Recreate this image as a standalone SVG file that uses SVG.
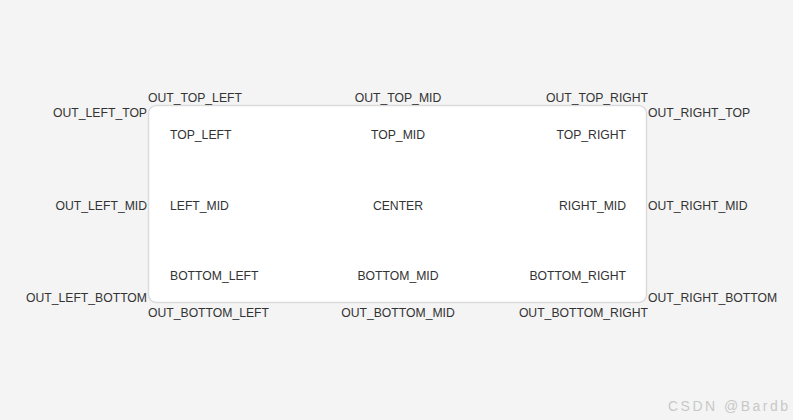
<svg xmlns="http://www.w3.org/2000/svg" width="793" height="420" viewBox="0 0 793 420">
<style>
text{font-family:"Liberation Sans",Arial,sans-serif;font-size:12.2px;fill:#333}
.s{text-anchor:start}.m{text-anchor:middle}.e{text-anchor:end}
.wm{font-size:14px;fill:#c8c8c8}
</style>
<rect x="0" y="0" width="793" height="420" fill="#f4f4f4"/>
<g id="panel">
<rect x="148.5" y="105.5" width="498" height="197" rx="8" ry="8" fill="#ffffff" stroke="#dcdcdc" stroke-width="1.5"/>
</g>
<g id="connectors"></g>
<g id="inner">
<text id="TOP_LEFT" class="s" x="170" y="139">TOP_LEFT</text>
<text id="TOP_MID" class="m" x="398" y="139">TOP_MID</text>
<text id="TOP_RIGHT" class="e" x="626" y="139">TOP_RIGHT</text>
<text id="LEFT_MID" class="s" x="170" y="210">LEFT_MID</text>
<text id="CENTER" class="m" x="398" y="210">CENTER</text>
<text id="RIGHT_MID" class="e" x="626" y="210">RIGHT_MID</text>
<text id="BOTTOM_LEFT" class="s" x="170" y="280">BOTTOM_LEFT</text>
<text id="BOTTOM_MID" class="m" x="398" y="280">BOTTOM_MID</text>
<text id="BOTTOM_RIGHT" class="e" x="626" y="280">BOTTOM_RIGHT</text>
</g>
<g id="outer">
<text id="OUT_TOP_LEFT" class="s" x="148" y="102">OUT_TOP_LEFT</text>
<text id="OUT_TOP_MID" class="m" x="398" y="102">OUT_TOP_MID</text>
<text id="OUT_TOP_RIGHT" class="e" x="648" y="102">OUT_TOP_RIGHT</text>
<text id="OUT_LEFT_TOP" class="e" x="147" y="117">OUT_LEFT_TOP</text>
<text id="OUT_RIGHT_TOP" class="s" x="648" y="117">OUT_RIGHT_TOP</text>
<text id="OUT_LEFT_MID" class="e" x="147" y="210">OUT_LEFT_MID</text>
<text id="OUT_RIGHT_MID" class="s" x="648" y="210">OUT_RIGHT_MID</text>
<text id="OUT_LEFT_BOTTOM" class="e" x="147" y="302">OUT_LEFT_BOTTOM</text>
<text id="OUT_RIGHT_BOTTOM" class="s" x="648" y="302">OUT_RIGHT_BOTTOM</text>
<text id="OUT_BOTTOM_LEFT" class="s" x="148" y="317">OUT_BOTTOM_LEFT</text>
<text id="OUT_BOTTOM_MID" class="m" x="398" y="317">OUT_BOTTOM_MID</text>
<text id="OUT_BOTTOM_RIGHT" class="e" x="648" y="317">OUT_BOTTOM_RIGHT</text>
</g>
<text class="wm" x="668" y="411" textLength="120" lengthAdjust="spacing">CSDN @Bardb</text>
</svg>
